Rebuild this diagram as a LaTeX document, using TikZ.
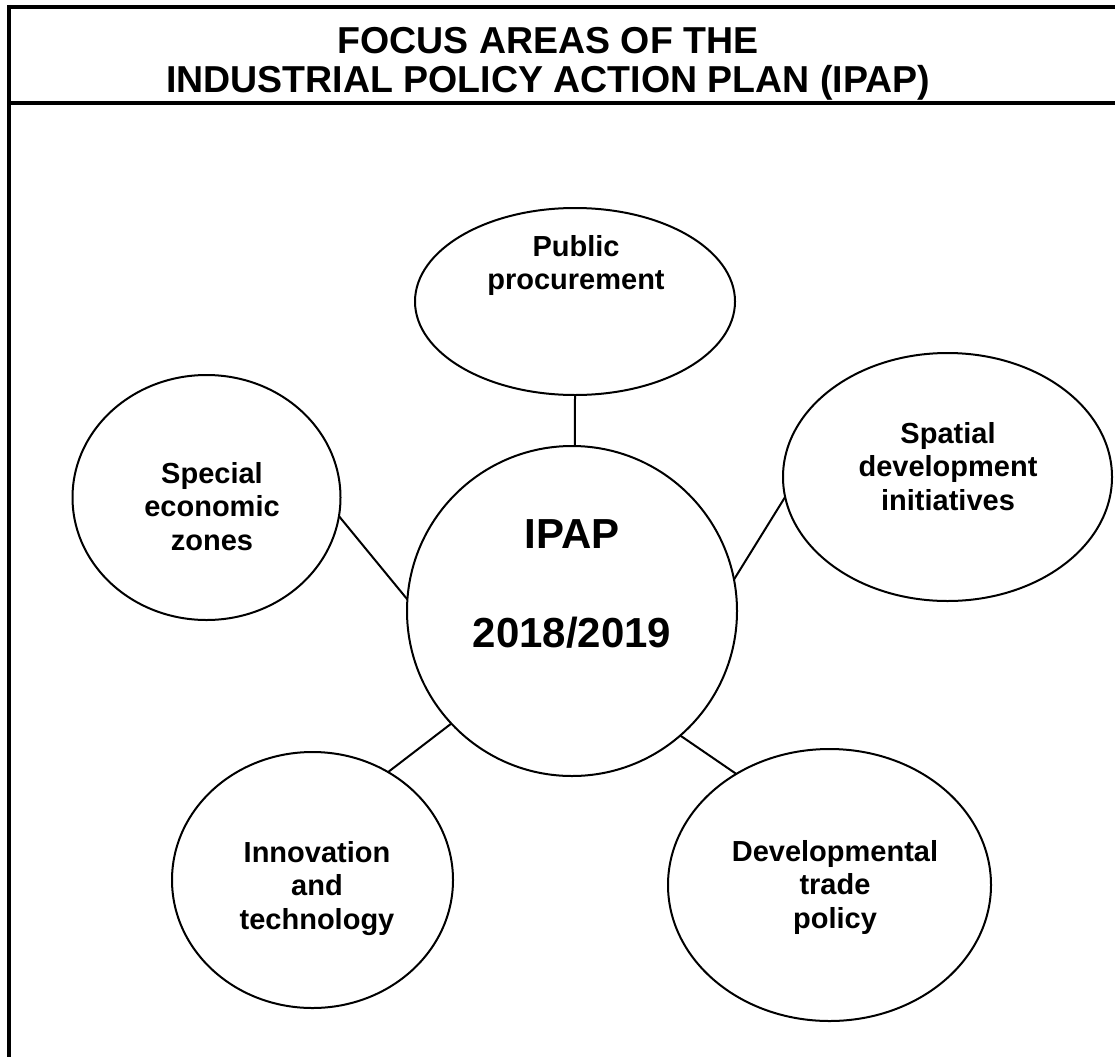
\documentclass[tikz,border=0pt]{standalone}
\usepackage{fontspec}
\setmainfont{Liberation Sans}
\usetikzlibrary{shapes.geometric}
\begin{document}
\begin{tikzpicture}[x=1pt,y=-1pt,
  bubble/.style={draw, ellipse, line width=2pt, inner sep=0pt, outer sep=0pt},
  hub/.style={draw, circle, line width=2pt, inner sep=0pt, outer sep=0pt},
  link/.style={line width=2pt},
  frameline/.style={line width=4pt},
  lbl/.style={anchor=base, inner sep=0pt, font=\bfseries\fontsize{29}{33.5}\selectfont},
  hublbl/.style={anchor=base, inner sep=0pt, font=\bfseries\fontsize{42}{99}\selectfont},
  titlelbl/.style={anchor=base, inner sep=0pt, font=\bfseries\fontsize{37.5}{39}\selectfont},
]
\useasboundingbox (0,0) rectangle (1115,1057);
% frame
\coordinate (fl) at (9,5);
\coordinate (fb) at (9,1057);
\coordinate (tl) at (7,7);
\coordinate (tr) at (1115,7);
\coordinate (ml) at (7,103);
\coordinate (mr) at (1115,103);
\draw[frameline] (fl) -- (fb);
\draw[frameline] (tl) -- (tr);
\draw[frameline] (ml) -- (mr);
\node[titlelbl] (title) at (548,53) {\begin{tabular}[t]{@{}c@{}}FOCUS AREAS OF THE\\INDUSTRIAL POLICY ACTION PLAN (IPAP)\end{tabular}};
% bubbles
\node[hub, minimum size=330] (ctr) at (572,611) {};
\node[bubble, minimum width=320, minimum height=187] (pp) at (575,301.5) {};
\node[bubble, minimum width=268, minimum height=245] (sez) at (206.5,497.5) {};
\node[bubble, minimum width=329, minimum height=248] (sdi) at (947.5,477) {};
\node[bubble, minimum width=281, minimum height=256] (int) at (312.5,880) {};
\node[bubble, minimum width=323, minimum height=272] (dtp) at (829.5,885) {};
% labels
\node[hublbl] (ctrt) at (572,548) {\begin{tabular}[t]{@{}c@{}}IPAP\\2018/2019\end{tabular}};
\node[lbl] (ppt) at (576,256) {\begin{tabular}[t]{@{}c@{}}Public\\procurement\end{tabular}};
\node[lbl] (sezt) at (212,483) {\begin{tabular}[t]{@{}c@{}}Special\\economic\\zones\end{tabular}};
\node[lbl] (sdit) at (948,443) {\begin{tabular}[t]{@{}c@{}}Spatial\\development\\initiatives\end{tabular}};
\node[lbl] (intt) at (317,862) {\begin{tabular}[t]{@{}c@{}}Innovation\\and\\technology\end{tabular}};
\node[lbl] (dtpt) at (835,861) {\begin{tabular}[t]{@{}c@{}}Developmental\\trade\\policy\end{tabular}};
% connectors
\draw[link] (pp.south) -- (ctr.89);
\draw[link] (sez.-8) -- (ctr.176);
\draw[link] (sdi.187) -- (ctr.11);
\draw[link] (int.55) -- (ctr.-137);
\draw[link] (dtp.130) -- (ctr.-49);
\end{tikzpicture}
\end{document}
